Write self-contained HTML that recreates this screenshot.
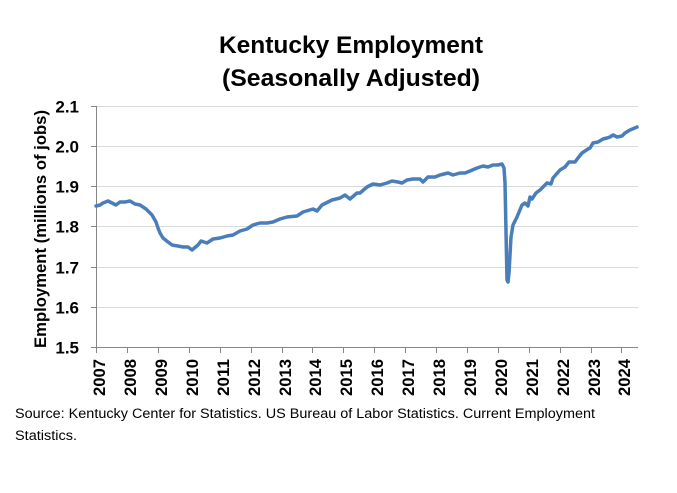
<!DOCTYPE html>
<html>
<head>
<meta charset="utf-8">
<style>
html,body{margin:0;padding:0;background:#fff;}
svg{display:block;}
text{font-family:"Liberation Sans",sans-serif;fill:#000;}
</style>
</head>
<body>
<svg width="677" height="493" viewBox="0 0 677 493" xmlns="http://www.w3.org/2000/svg">
<rect width="677" height="493" fill="#fff"/>
<!-- title -->
<text x="351" y="53" font-size="24" font-weight="bold" text-anchor="middle" textLength="264" lengthAdjust="spacingAndGlyphs">Kentucky Employment</text>
<text x="351" y="86" font-size="24" font-weight="bold" text-anchor="middle" textLength="258" lengthAdjust="spacingAndGlyphs">(Seasonally Adjusted)</text>
<!-- gridlines -->
<g stroke="#d9d9d9" stroke-width="1">
<line x1="96" y1="106.5" x2="638" y2="106.5"/>
<line x1="96" y1="146.5" x2="638" y2="146.5"/>
<line x1="96" y1="186.5" x2="638" y2="186.5"/>
<line x1="96" y1="226.5" x2="638" y2="226.5"/>
<line x1="96" y1="267.5" x2="638" y2="267.5"/>
<line x1="96" y1="307.5" x2="638" y2="307.5"/>
</g>
<!-- axes -->
<g stroke="#868686" stroke-width="1">
<line x1="96.5" y1="106" x2="96.5" y2="348"/>
<line x1="96" y1="347.5" x2="638" y2="347.5"/>
<line x1="91" y1="106.5" x2="96" y2="106.5"/>
<line x1="91" y1="146.5" x2="96" y2="146.5"/>
<line x1="91" y1="186.5" x2="96" y2="186.5"/>
<line x1="91" y1="226.5" x2="96" y2="226.5"/>
<line x1="91" y1="267.5" x2="96" y2="267.5"/>
<line x1="91" y1="307.5" x2="96" y2="307.5"/>
<line x1="91" y1="347.5" x2="96" y2="347.5"/>
<line x1="96.5" y1="347" x2="96.5" y2="353"/>
<line x1="127.5" y1="347" x2="127.5" y2="353"/>
<line x1="158.5" y1="347" x2="158.5" y2="353"/>
<line x1="189.5" y1="347" x2="189.5" y2="353"/>
<line x1="220.5" y1="347" x2="220.5" y2="353"/>
<line x1="251.5" y1="347" x2="251.5" y2="353"/>
<line x1="282.5" y1="347" x2="282.5" y2="353"/>
<line x1="312.5" y1="347" x2="312.5" y2="353"/>
<line x1="343.5" y1="347" x2="343.5" y2="353"/>
<line x1="374.5" y1="347" x2="374.5" y2="353"/>
<line x1="405.5" y1="347" x2="405.5" y2="353"/>
<line x1="436.5" y1="347" x2="436.5" y2="353"/>
<line x1="467.5" y1="347" x2="467.5" y2="353"/>
<line x1="498.5" y1="347" x2="498.5" y2="353"/>
<line x1="529.5" y1="347" x2="529.5" y2="353"/>
<line x1="560.5" y1="347" x2="560.5" y2="353"/>
<line x1="591.5" y1="347" x2="591.5" y2="353"/>
<line x1="621.5" y1="347" x2="621.5" y2="353"/>
</g>
<!-- y tick labels -->
<g font-size="17" font-weight="bold" text-anchor="end">
<text x="79" y="112.5">2.1</text>
<text x="79" y="152.5">2.0</text>
<text x="79" y="192.5">1.9</text>
<text x="79" y="232.5">1.8</text>
<text x="79" y="273.5">1.7</text>
<text x="79" y="313.5">1.6</text>
<text x="79" y="353.5">1.5</text>
</g>
<!-- y axis title -->
<text transform="translate(46,229) rotate(-90)" font-size="17" font-weight="bold" text-anchor="middle" textLength="238" lengthAdjust="spacingAndGlyphs">Employment (millions of jobs)</text>
<!-- x tick labels -->
<g font-size="17" font-weight="bold" text-anchor="end">
<text transform="translate(105,359) rotate(-90)" textLength="37" lengthAdjust="spacingAndGlyphs">2007</text>
<text transform="translate(136,359) rotate(-90)" textLength="37" lengthAdjust="spacingAndGlyphs">2008</text>
<text transform="translate(167,359) rotate(-90)" textLength="37" lengthAdjust="spacingAndGlyphs">2009</text>
<text transform="translate(198,359) rotate(-90)" textLength="37" lengthAdjust="spacingAndGlyphs">2010</text>
<text transform="translate(229,359) rotate(-90)" textLength="37" lengthAdjust="spacingAndGlyphs">2011</text>
<text transform="translate(260,359) rotate(-90)" textLength="37" lengthAdjust="spacingAndGlyphs">2012</text>
<text transform="translate(291,359) rotate(-90)" textLength="37" lengthAdjust="spacingAndGlyphs">2013</text>
<text transform="translate(321,359) rotate(-90)" textLength="37" lengthAdjust="spacingAndGlyphs">2014</text>
<text transform="translate(352,359) rotate(-90)" textLength="37" lengthAdjust="spacingAndGlyphs">2015</text>
<text transform="translate(383,359) rotate(-90)" textLength="37" lengthAdjust="spacingAndGlyphs">2016</text>
<text transform="translate(414,359) rotate(-90)" textLength="37" lengthAdjust="spacingAndGlyphs">2017</text>
<text transform="translate(445,359) rotate(-90)" textLength="37" lengthAdjust="spacingAndGlyphs">2018</text>
<text transform="translate(476,359) rotate(-90)" textLength="37" lengthAdjust="spacingAndGlyphs">2019</text>
<text transform="translate(507,359) rotate(-90)" textLength="37" lengthAdjust="spacingAndGlyphs">2020</text>
<text transform="translate(538,359) rotate(-90)" textLength="37" lengthAdjust="spacingAndGlyphs">2021</text>
<text transform="translate(569,359) rotate(-90)" textLength="37" lengthAdjust="spacingAndGlyphs">2022</text>
<text transform="translate(600,359) rotate(-90)" textLength="37" lengthAdjust="spacingAndGlyphs">2023</text>
<text transform="translate(630,359) rotate(-90)" textLength="37" lengthAdjust="spacingAndGlyphs">2024</text>
</g>
<!-- data line -->
<polyline fill="none" stroke="#4a7ebb" stroke-width="3.5" stroke-linejoin="round" stroke-linecap="round" points="
96,206 100,205 103,203 108,201 112,203 116,205 120,202 125,202 130,201 135,204 140,205 146,209 152,215 156,222 158,228 160,233 163,238 168,242 172,245 178,246 183,247 188,247 192,250 198,245 201,241 204,242 207,243 213,239 220,238 227,236 233,235 240,231 247,229 253,225 260,223 267,223 273,222 280,219 287,217 297,216 303,212 313,209 317,211 322,205 332,200 340,198 345,195 350,199 357,193 360,193 367,187 373,184 380,185 387,183 392,181 398,182 402,183 407,180 413,179 420,179 423,182 428,177 435,177 440,175 448,173 453,175 460,173 465,173 470,171 477,168 483,166 488,167 493,165 498,165 502,164 504,168 505,183 507,280 508,282 509,273 511,237 513,225 517,217 522,205 525,203 528,206 530,197 532,199 536,193 540,190 547,183 551,184 553,178 560,170 565,167 569,162 575,162 578,158 582,153 588,149 590,148 593,143 598,142 603,139 607,138 610,137 613,135 617,137 622,136 625,133 630,130 637,127"/>
<!-- source -->
<text x="15" y="418" font-size="13.5" textLength="580" lengthAdjust="spacingAndGlyphs">Source: Kentucky Center for Statistics. US Bureau of Labor Statistics. Current Employment</text>
<text x="15" y="440" font-size="13.5" textLength="62" lengthAdjust="spacingAndGlyphs">Statistics.</text>
</svg>
</body>
</html>
